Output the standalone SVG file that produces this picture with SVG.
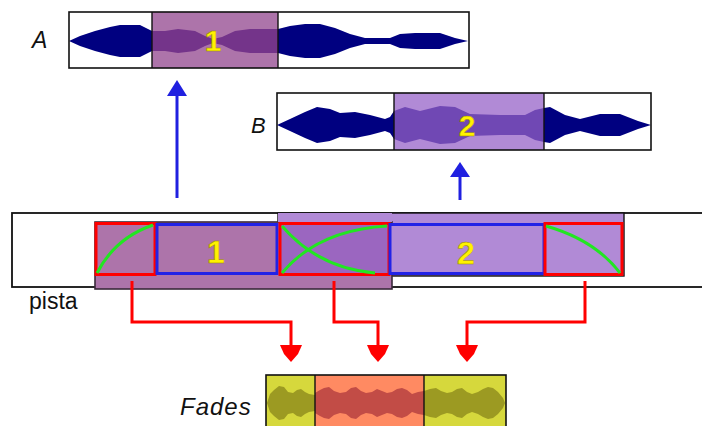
<svg xmlns="http://www.w3.org/2000/svg" width="702" height="426" viewBox="0 0 702 426">
  <style>
    .frame { fill: none; stroke: #111; stroke-width: 1.6; }
    .lbl { font-family: "Liberation Sans", Arial, sans-serif; fill: #111; }
    .num { font-family: "Liberation Sans", Arial, sans-serif; font-weight: bold; fill: #FFF200; stroke: #9a8a00; stroke-width: 0.5; text-anchor: middle; }
    .fadebox { stroke: #FF0000; stroke-width: 3; }
    .clipbox { stroke: #2222E6; stroke-width: 3; }
    .env { fill: none; stroke: #22E622; stroke-width: 3; }
    .red { fill: none; stroke: #FF0000; stroke-width: 3; }
    .blue { fill: none; stroke: #2020E0; stroke-width: 3; }
  </style>
  <defs>
    <clipPath id="cutA"><rect x="152" y="12" width="126" height="56"/></clipPath>
    <clipPath id="cutB"><rect x="394" y="93" width="150" height="57"/></clipPath>
    <path id="waveA" d="M69,41 L80,36 95,31 110,27 120,25 140,25 152,31 165,31 178,29 195,31 205,36 213,39 222,37 235,31 250,29 278,29 290,26 305,24 320,24 335,28 350,34 365,38 390,38 400,34 415,33 440,33 455,38 468,41 L455,44 440,49 415,49 400,48 390,44 365,44 350,48 335,54 320,58 305,58 290,56 278,53 250,53 235,51 222,45 213,43 205,46 195,51 178,53 165,51 152,51 140,57 120,57 110,55 95,51 80,46 Z"/>
    <path id="waveB" d="M277,125 L290,119 305,112 317,107 330,109 340,113 355,112 370,115 385,119 390,117 394,111 405,107 420,111 440,106 455,107 470,114 500,115 525,115 535,110 544,108 550,107 565,115 580,119 600,114 620,114 638,121 651,125 L638,129 620,136 600,136 580,131 565,135 550,143 544,142 535,140 525,135 500,135 470,136 455,143 440,144 420,139 405,143 394,139 390,133 385,131 370,135 355,138 340,137 330,141 317,143 305,138 290,131 Z"/>
  </defs>

  <!-- track A -->
  <g id="trackA">
    <rect x="69" y="12" width="400" height="56" fill="#fff"/>
    <use href="#waveA" fill="#000080"/>
    <rect x="152" y="12" width="126" height="56" fill="#AD74AA"/>
    <use href="#waveA" fill="#74348A" clip-path="url(#cutA)"/>
    <rect x="69" y="12" width="400" height="56" class="frame"/>
    <line x1="152" y1="12" x2="152" y2="68" stroke="#111" stroke-width="1.4"/>
    <line x1="278" y1="12" x2="278" y2="68" stroke="#111" stroke-width="1.4"/>
    <text x="213" y="51" class="num" font-size="30">1</text>
    <text x="32" y="48" class="lbl" font-size="23" font-style="italic">A</text>
  </g>

  <!-- track B -->
  <g id="trackB">
    <rect x="277" y="93" width="374" height="57" fill="#fff"/>
    <use href="#waveB" fill="#000080"/>
    <rect x="394" y="93" width="150" height="57" fill="#B18AD6"/>
    <use href="#waveB" fill="#7048B4" clip-path="url(#cutB)"/>
    <rect x="277" y="93" width="374" height="57" class="frame"/>
    <line x1="394" y1="93" x2="394" y2="150" stroke="#111" stroke-width="1.4"/>
    <line x1="544" y1="93" x2="544" y2="150" stroke="#111" stroke-width="1.4"/>
    <text x="467" y="136" class="num" font-size="30">2</text>
    <text x="251" y="133" class="lbl" font-size="22" font-style="italic">B</text>
  </g>

  <!-- pista track -->
  <g id="pista">
    <rect x="12" y="213" width="700" height="74" fill="#fff" stroke="#111" stroke-width="1.8"/>
    <rect x="278" y="213" width="346" height="63" fill="#B18AD6" stroke="#111" stroke-width="1.4"/>
    <rect x="95" y="222" width="297" height="67" fill="#AD74AA" stroke="#3a2a3a" stroke-width="1.6"/>
    <rect x="278" y="213" width="114" height="9" fill="#B18AD6"/>
    <text x="29" y="309" class="lbl" font-size="23">pista</text>
  </g>

  <g id="fadeIn">
    <rect x="96" y="223.5" width="59" height="51" fill="#AD74AA" class="fadebox"/>
    <path d="M97,273 Q115,238 153,225" class="env"/>
  </g>
  <g id="clip1">
    <rect x="157" y="224.5" width="120" height="49" fill="#AD74AA" class="clipbox"/>
    <text x="216" y="263" class="num" font-size="32">1</text>
  </g>
  <g id="crossfade">
    <rect x="280" y="223.5" width="109" height="51" fill="#9B66C0" class="fadebox"/>
    <path d="M282,226 Q318,268 375,273" class="env"/>
    <path d="M282,273 Q318,230 387,226" class="env"/>
  </g>
  <g id="clip2">
    <rect x="390" y="224.5" width="154" height="49" fill="#B18AD6" class="clipbox"/>
    <text x="466" y="264" class="num" font-size="32">2</text>
  </g>
  <g id="fadeOut">
    <rect x="545" y="223.5" width="77" height="51" fill="#B18AD6" class="fadebox"/>
    <path d="M546,226 Q595,240 620,273" class="env"/>
  </g>

  <!-- fades strip -->
  <g id="fades">
    <rect x="266" y="375" width="49" height="60" fill="#D6D83C"/>
    <rect x="315" y="375" width="109" height="60" fill="#FF8A62"/>
    <rect x="424" y="375" width="82" height="60" fill="#D6D83C"/>
    <path d="M267,403 L270,394 274,390 279,386 284,387 288,392 293,393 297,390 301,389 305,392 309,394 315,395 L315,411 309,412 305,414 301,417 297,416 293,413 288,414 284,419 279,420 274,416 270,412 Z" fill="#9C9A22"/>
    <path d="M315,393 L320,390 324,388 329,387 334,391 340,393 346,392 351,388 356,387 361,391 366,393 372,392 377,389 382,391 387,393 392,392 397,389 402,388 407,390 412,394 418,392 424,391 L424,415 418,414 412,412 407,416 402,418 397,417 392,414 387,413 382,415 377,417 372,414 366,413 361,415 356,419 351,418 346,414 340,413 334,415 329,419 324,418 320,416 315,413 Z" fill="#C24C46"/>
    <path d="M424,391 L430,389 436,388 441,391 447,393 452,392 457,389 462,388 467,392 472,394 478,392 483,389 488,387 493,388 498,392 503,398 505,403 503,408 498,414 493,418 488,419 483,417 478,414 472,412 467,414 462,418 457,417 452,414 447,413 441,415 436,418 430,417 424,415 Z" fill="#9C9A22"/>
    <rect x="266" y="375" width="240" height="60" class="frame"/>
    <line x1="315" y1="375" x2="315" y2="426" stroke="#111" stroke-width="1.4"/>
    <line x1="424" y1="375" x2="424" y2="426" stroke="#111" stroke-width="1.4"/>
    <text x="180" y="415" class="lbl" font-size="24" font-style="italic" letter-spacing="1">Fades</text>
  </g>

  <!-- connectors -->
  <g id="connectors">
    <line x1="177" y1="198" x2="177" y2="92" class="blue"/>
    <polygon points="177,80 187,96 167,96" fill="#2020E0"/>
    <line x1="460" y1="200" x2="460" y2="174" class="blue"/>
    <polygon points="460,162 470,177 450,177" fill="#2020E0"/>

    <polyline points="132,281 132,322 291,322 291,348" class="red"/>
    <polygon points="280,345 302,345 298,354 291,362 284,354" fill="#FF0000"/>
    <polyline points="334,281 334,322 378,322 378,348" class="red"/>
    <polygon points="367,345 389,345 385,354 378,362 371,354" fill="#FF0000"/>
    <polyline points="585,281 585,322 467,322 467,348" class="red"/>
    <polygon points="456,345 478,345 474,354 467,362 460,354" fill="#FF0000"/>
  </g>
</svg>
